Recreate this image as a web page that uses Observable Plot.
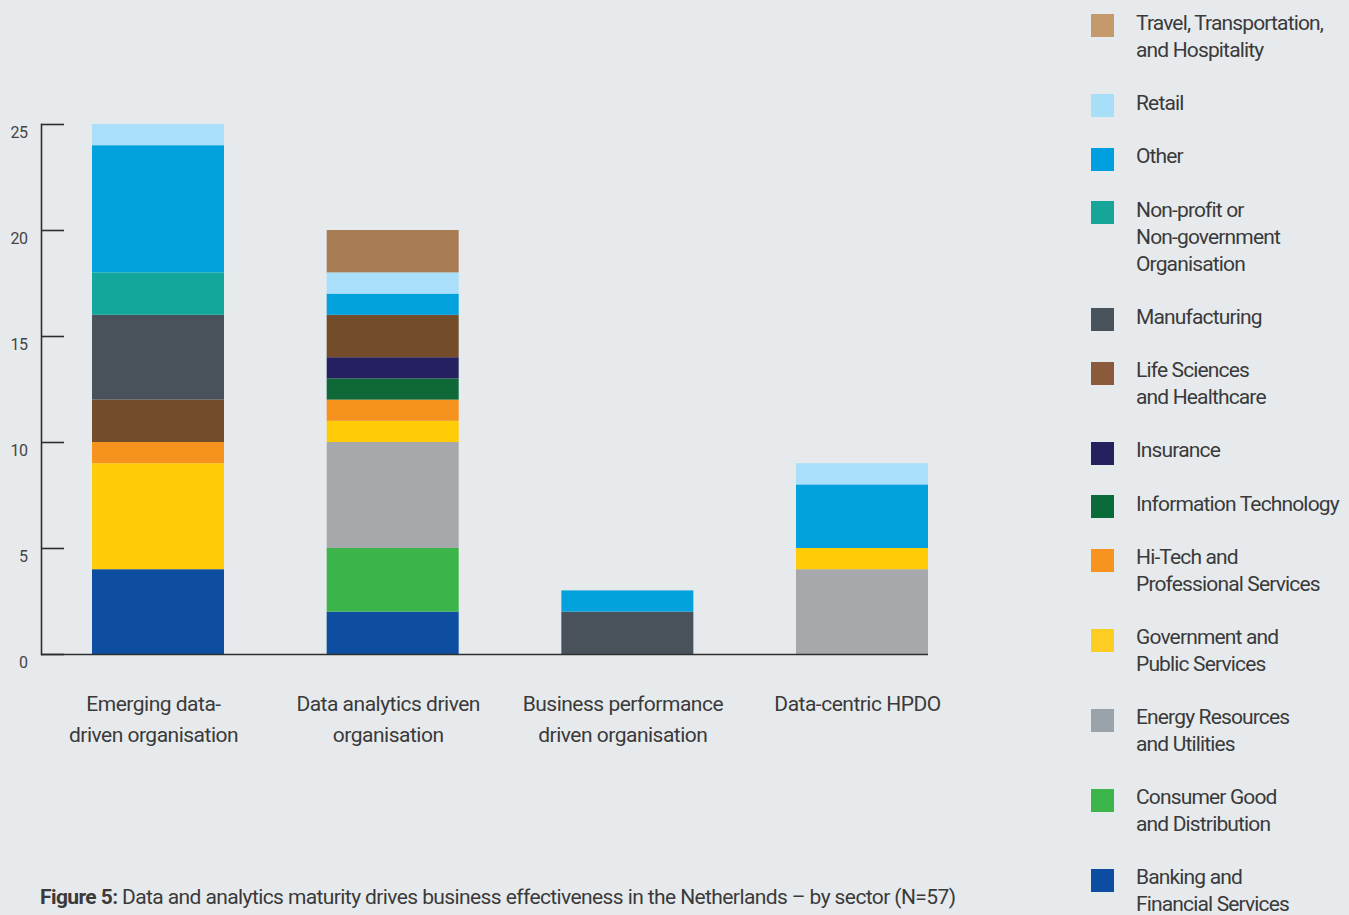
<!DOCTYPE html>
<html>
<head>
<meta charset="utf-8">
<script src="https://cdn.jsdelivr.net/npm/d3@7"></script>
<script src="https://cdn.jsdelivr.net/npm/@observablehq/plot@0.6"></script>
<style>
  html, body { margin: 0; padding: 0; }
  body {
    width: 1349px; height: 915px; position: relative; overflow: hidden;
    background: #e7eaed;
    font-family: "Liberation Sans Narrow", Roboto, sans-serif;
    color: #3a3a3a;
  }
  #chart { position: absolute; left: 0; top: 0; }
  #legend { position: absolute; left: 1091px; top: 9.5px; font-size: 21px; line-height: 27px; letter-spacing: -0.85px; white-space: nowrap; }
  .item { display: flex; align-items: flex-start; margin-bottom: 26px; }
  .sw { width: 23px; height: 23px; margin-top: 4.5px; margin-right: 22px; flex: none; }
  #caption { position: absolute; left: 40px; top: 883px; font-size: 21px; line-height: 28px; white-space: nowrap; letter-spacing: -0.6px; }
  #caption b { font-weight: bold; }
</style>
</head>
<body>
<div id="chart"></div>
<div id="legend"></div>
<div id="caption"><b>Figure 5:</b> Data and analytics maturity drives business effectiveness in the Netherlands – by sector (N=57)</div>
<script>
// Maturity levels along the x axis
const categories = [
  "Emerging data-\ndriven organisation",
  "Data analytics driven\norganisation",
  "Business performance\ndriven organisation",
  "Data-centric HPDO"
];

// Sectors in stacking order (bottom to top)
const sectors = [
  "Banking and\nFinancial Services",
  "Consumer Good\nand Distribution",
  "Energy Resources\nand Utilities",
  "Government and\nPublic Services",
  "Hi-Tech and\nProfessional Services",
  "Information Technology",
  "Insurance",
  "Life Sciences\nand Healthcare",
  "Manufacturing",
  "Non-profit or\nNon-government\nOrganisation",
  "Other",
  "Retail",
  "Travel, Transportation,\nand Hospitality"
];

// Respondent counts per sector, one array per maturity level
const emerging        = [4, 0, 0, 5, 1, 0, 0, 2, 4, 2, 6, 1, 0];
const analyticsDriven = [2, 3, 5, 1, 1, 1, 1, 2, 0, 0, 1, 1, 2];
const businessDriven  = [0, 0, 0, 0, 0, 0, 0, 0, 2, 0, 1, 0, 0];
const hpdo            = [0, 0, 4, 1, 0, 0, 0, 0, 0, 0, 3, 1, 0];

// Bar fills and legend swatch fills per sector
const barColors = ["#0d4ea1", "#3bb54a", "#a7a8ab", "#ffcc07", "#f6921e", "#0e6838", "#252060",
                   "#734c29", "#49525a", "#13a69a", "#00a1dd", "#a9dffa", "#a97d54"];
const swatchColors = ["#0c4da2", "#3cb54a", "#9aa3aa", "#fdcd23", "#f79420", "#0b6a3a", "#24215e",
                      "#8a5a3a", "#48535b", "#17a59a", "#009fe0", "#a8dff8", "#c49a6c"];

const yTicks = [0, 5, 10, 15, 20, 25];

const seriesByCategory = [emerging, analyticsDriven, businessDriven, hpdo];
const rows = [];
categories.forEach((c, ci) => {
  sectors.forEach((s, si) => {
    const v = seriesByCategory[ci][si];
    if (v > 0) rows.push({category: c, sector: s, value: v});
  });
});

const axisFont = "'Liberation Sans Narrow', Roboto, sans-serif";

const chart = Plot.plot({
  width: 960,
  height: 760,
  marginLeft: 41,
  marginRight: 32,
  marginTop: 124,
  marginBottom: 106,
  style: {background: "transparent", fontFamily: axisFont, color: "#3a3a3a", letterSpacing: "-0.5px"},
  x: {domain: categories, paddingInner: 0.4375, paddingOuter: 0.1087, align: 1, round: false},
  y: {domain: [0, 25]},
  color: {domain: sectors, range: barColors},
  marks: [
    Plot.barY(rows, Plot.stackY({x: "category", y: "value", fill: "sector", order: sectors})),
    // baseline and vertical axis line
    Plot.ruleY([0], {stroke: "#2e2e2e", strokeWidth: 1.6}),
    Plot.frame({anchor: "left", stroke: "#2e2e2e", strokeWidth: 1.6}),
    // inward-pointing tick marks
    Plot.axisY({ticks: yTicks, tickSize: 23, dx: 23, tickFormat: () => "", label: null, stroke: "#2e2e2e", strokeWidth: 1.6}),
    // tick labels set slightly below their ticks
    Plot.axisY({ticks: yTicks, tickSize: 0, tickPadding: 14, dy: 8, label: null, fontSize: 16, fill: "#444"}),
    Plot.axisX({tickSize: 0, tickPadding: 35, dx: -5, label: null, fontSize: 21, lineHeight: 1.45, fill: "#3a3a3a"})
  ]
});
document.getElementById("chart").append(chart);

// Legend, listed top to bottom in reverse stacking order
const legend = d3.select("#legend");
sectors.map((s, i) => ({s, c: swatchColors[i]})).reverse().forEach(({s, c}) => {
  const item = legend.append("div").attr("class", "item");
  item.append("div").attr("class", "sw").style("background", c);
  const t = item.append("div");
  s.split("\n").forEach(line => t.append("div").text(line));
});
</script>
</body>
</html>
